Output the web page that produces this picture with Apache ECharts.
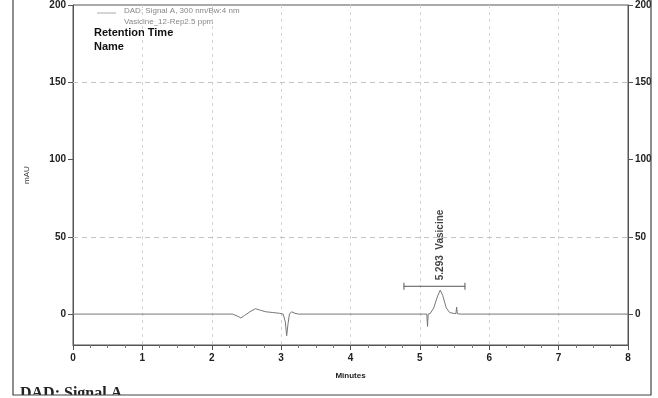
<!DOCTYPE html>
<html>
<head>
<meta charset="utf-8">
<script src="https://cdn.jsdelivr.net/npm/echarts@6/dist/echarts.min.js"></script>
<style>html,body{margin:0;padding:0;background:#fff;}#c{width:658px;height:398px;}</style>
</head>
<body>
<div id="c"></div>
<script>
// ---- data ----
var times  = [0, 2.30, 2.38, 2.42, 2.47, 2.55, 2.63, 2.70, 2.78, 2.88, 2.98, 3.03, 3.06, 3.08, 3.10, 3.12, 3.15, 3.20, 3.25, 5.05, 5.10, 5.11, 5.12, 5.15, 5.20, 5.25, 5.293, 5.33, 5.38, 5.43, 5.48, 5.52, 5.53, 5.54, 5.58, 8];
var signal = [0, 0,    -1.5, -2.5, -1,   1.5,  3.5,  2.5,  1.5,  1,    0.5,  0,    -5,   -14,  -6,   0,    1.5,  0.5,  0,    0,    0,    -8,   0,    0.5,  4,    11,   15.5,  12,   4,    1,    0.5,  0.3,  4.5,  0.3,  0,    0];
var xTicks = [0, 1, 2, 3, 4, 5, 6, 7, 8];
var yTicks = [0, 50, 100, 150, 200];
var gridLevels = [50, 150];
var annoStart = 4.77, annoEnd = 5.65, annoLevel = 18;
var peakTime = 5.293, peakName = "Vasicine";
var legendLines = ["DAD: Signal A, 300 nm/Bw:4 nm", "Vasicine_12-Rep2.5 ppm"];
var headerLines = ["Retention Time", "Name"];

var pairs = times.map(function (t, i) { return [t, signal[i]]; });
var FONT = "Liberation Sans";
var labStyle = { fontFamily: FONT, fontSize: 10, fontWeight: "bold", color: "#222" };

function yAxisDef(pos) {
  return {
    type: "value", position: pos, min: -20, max: 200,
    axisLine: { show: true, lineStyle: { color: "#555", width: 1 } },
    axisTick: { show: true, inside: false, length: 5, customValues: yTicks, lineStyle: { color: "#555" } },
    axisLabel: Object.assign({ customValues: yTicks, margin: 7 }, labStyle),
    splitLine: { show: false },
    name: pos === "left" ? "mAU" : "",
    nameLocation: "middle", nameRotate: 90, nameGap: 42,
    nameTextStyle: { fontFamily: FONT, fontSize: 8, color: "#333" }
  };
}

var chart = echarts.init(document.getElementById("c"), null, { renderer: "canvas" });
chart.setOption({
  animation: false,
  backgroundColor: "#fff",
  grid: { left: 73, right: 30, top: 5, bottom: 53, show: true, borderColor: "#555", borderWidth: 1, containLabel: false },
  xAxis: {
    type: "value", min: 0, max: 8, interval: 1,
    axisLine: { show: true, onZero: false, lineStyle: { color: "#555", width: 1 } },
    axisTick: { show: true, inside: false, length: 5, lineStyle: { color: "#555" } },
    minorTick: { show: true, splitNumber: 4, length: 3, lineStyle: { color: "#777" } },
    axisLabel: Object.assign({ margin: 8 }, labStyle),
    splitLine: { show: true, lineStyle: { color: "#d2d2d2", type: [3, 4], width: 1 } },
    name: "Minutes", nameLocation: "middle", nameGap: 27,
    nameTextStyle: { fontFamily: FONT, fontSize: 8, fontWeight: "bold", color: "#222" }
  },
  yAxis: [yAxisDef("left"), yAxisDef("right")],
  series: [
    {
      type: "line", data: pairs, showSymbol: false, symbol: "none",
      lineStyle: { color: "#777", width: 1 }, z: 3,
      markLine: {
        silent: true, symbol: "none", label: { show: false },
        lineStyle: { color: "#c4c4c4", type: [5, 4], width: 1 },
        data: gridLevels.map(function (v) { return { yAxis: v }; })
      }
    },
    {
      type: "line", data: [[annoStart, annoLevel], [annoEnd, annoLevel]],
      symbol: "rect", symbolSize: [1, 7], showSymbol: true,
      itemStyle: { color: "#555" }, lineStyle: { color: "#555", width: 1 }, z: 4
    },
    {
      type: "scatter", data: [[peakTime, annoLevel]], symbolSize: 0, z: 5,
      label: {
        show: true, position: "top", distance: 6, rotate: 90, align: "left", verticalAlign: "middle",
        formatter: peakTime.toFixed(3) + "  " + peakName,
        fontFamily: FONT, fontSize: 10, fontWeight: "bold", color: "#111"
      }
    }
  ],
  graphic: [
    { type: "line", shape: { x1: 97, y1: 13, x2: 116, y2: 13 }, style: { stroke: "#aaa", lineWidth: 1 } },
    { type: "text", left: 124, top: 7, style: { text: legendLines[0], fontFamily: FONT, fontSize: 8, fill: "#888" } },
    { type: "text", left: 124, top: 18, style: { text: legendLines[1], fontFamily: FONT, fontSize: 8, fill: "#888" } },
    { type: "text", left: 94, top: 27, style: { text: headerLines[0], fontFamily: FONT, fontSize: 11, fontWeight: "bold", fill: "#111" } },
    { type: "text", left: 94, top: 41, style: { text: headerLines[1], fontFamily: FONT, fontSize: 11, fontWeight: "bold", fill: "#111" } },
    { type: "text", left: 20, top: 386, style: { text: "DAD: Signal A", fontFamily: "Liberation Serif", fontSize: 16, fontWeight: "bold", fill: "#222" } },
    { type: "rect", shape: { x: 0, y: 395, width: 658, height: 5 }, style: { fill: "#fff" }, z: 100 },
    { type: "rect", shape: { x: 13, y: -5, width: 638, height: 400 }, style: { fill: "none", stroke: "#444", lineWidth: 1.2 }, z: 101 }
  ]
});
</script>
</body>
</html>
